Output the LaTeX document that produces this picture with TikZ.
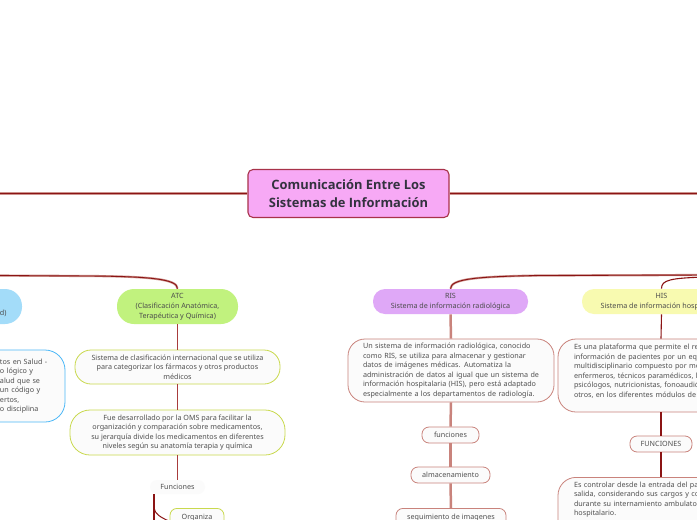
\documentclass[tikz,border=0pt]{standalone}
\usepackage{fontspec}
\setmainfont{Noto Sans}
\newfontfamily\rootfont{Open Sans}
\newcommand{\lin}{\hspace*{25pt}}
\definecolor{txt}{HTML}{505050}
\definecolor{dk}{HTML}{8B1414}
\definecolor{lt}{HTML}{CC928C}
\definecolor{rosa}{HTML}{C9837C}
\definecolor{lima}{HTML}{C9D94E}
\definecolor{azul}{HTML}{4DB8F7}
\definecolor{rootfill}{HTML}{F7A9F5}
\definecolor{rootline}{HTML}{A8324A}
\definecolor{roottext}{HTML}{33323F}
\definecolor{midred}{HTML}{A83C3C}
\definecolor{atcfill}{HTML}{C1F27E}
\definecolor{ciefill}{HTML}{A3DCF9}
\definecolor{risfill}{HTML}{DFA8F7}
\definecolor{hisfill}{HTML}{F8FAB0}
\tikzset{
  basebox/.style={draw, line width=0.8pt, fill=black!1.5, inner sep=0pt, font=\fontsize{7.2}{9.5}\selectfont, text=txt, align=center},
  head/.style={basebox, draw=none, text=black!70, font=\fontsize{7.2}{10}\selectfont},
  rosebox/.style={basebox, draw=rosa},
  limebox/.style={basebox, draw=lima},
  bluebox/.style={basebox, draw=azul},
  halo/.style={draw=lt, line width=2.2pt},
  core/.style={draw=dk, line width=0.9pt},
  thicklink/.style={draw=rosa, line width=2.5pt},
  medlink/.style={draw=midred, line width=1.5pt},
  thinlink/.style={draw=dk, line width=1.1pt}
}
\begin{document}
\begin{tikzpicture}[x=1pt,y=-1pt]
\useasboundingbox (0,0) rectangle (697,520);
\clip (0,0) rectangle (697,520);
\fill[white] (0,0) rectangle (697,520);

% central
\node[draw=rootline, fill=rootfill, line width=1.1pt, rounded corners=5pt, minimum width=201pt, minimum height=48pt, inner sep=0pt, align=center, font=\rootfont\fontsize{12.9}{18}\selectfont\bfseries, text=roottext] (root) at (348.5,193.5) {Comunicación Entre Los\\Sistemas de Información};

% headers
\node[head, fill=atcfill, minimum width=121pt, minimum height=35pt, rounded corners=17pt] (atc) at (177.5,306.5) {ATC\\(Clasificación Anatómica,\\Terapéutica y Química)};
\node[head, fill=ciefill, minimum height=35pt, rounded corners=17pt, text width=42pt, inner xsep=5pt, align=left] (cie) at (-4,306.5) {~\\~\\\lin d)};
\node[head, fill=risfill, minimum width=155pt, minimum height=25pt, rounded corners=12pt] (ris) at (450.5,301.5) {RIS\\Sistema de información radiológica};
\node[head, fill=hisfill, minimum width=159pt, minimum height=25pt, rounded corners=12pt] (his) at (661.5,301.5) {HIS\\Sistema de información hospitalaria};

% ATC column
\node[limebox, minimum width=205pt, minimum height=34pt, rounded corners=16pt] (a1) at (177.5,367) {Sistema de clasificación internacional que se utiliza\\para categorizar los fármacos y otros productos\\médicos};
\node[limebox, minimum width=215pt, minimum height=45pt, rounded corners=20pt] (a2) at (177.5,432.5) {Fue desarrollado por la OMS para facilitar la\\organización y comparación sobre medicamentos,\\su jerarquía divide los medicamentos en diferentes\\niveles según su anatomía terapia y química};
\node[basebox, draw=none, minimum width=55pt, minimum height=14pt, rounded corners=7pt] (fun) at (177.5,487) {Funciones};
\node[limebox, minimum width=54pt, minimum height=26pt, rounded corners=7pt, anchor=north, text height=7.5pt, text depth=11.5pt] (org) at (197,508) {Organiza};

% blue box
\node[bluebox, minimum height=72pt, rounded corners=20pt, text width=85pt, inner xsep=5pt, align=left] (b1) at (17.5,386) {\lin tos en Salud -\\\lin o lógico y\\\lin alud que se\\\lin un código y\\\lin ertos,\\\lin o disciplina};

% RIS column
\node[rosebox, minimum width=206pt, minimum height=63pt, rounded corners=17pt, text width=176pt, align=left] (r1) at (451,370.5) {Un sistema de información radiológica, conocido\\como RIS, se utiliza para almacenar y gestionar\\datos de imágenes médicas. Automatiza la\\administración de datos al igual que un sistema de\\información hospitalaria (HIS), pero está adaptado\\especialmente a los departamentos de radiología.};
\node[rosebox, minimum width=57pt, minimum height=16pt, rounded corners=7pt] (r2) at (450.5,435) {funciones};
\node[rosebox, minimum width=79pt, minimum height=16pt, rounded corners=7pt] (r3) at (450.5,475) {almacenamiento};
\node[rosebox, minimum width=110pt, minimum height=26pt, rounded corners=7pt, anchor=north, text height=7.5pt, text depth=11.5pt] (r4) at (451,508) {seguimiento de imagenes};

% HIS column
\node[rosebox, minimum width=206pt, minimum height=73pt, rounded corners=18pt, text width=174pt, align=left] (h1) at (661,375.5) {Es una plataforma que permite el reg\\información de pacientes por un equ\\multidisciplinario compuesto por mé\\enfermeros, técnicos paramédicos, k\\psicólogos, nutricionistas, fonoaudió\\otros, en los diferentes módulos de a\\~};
\node[rosebox, minimum width=62pt, minimum height=16pt, rounded corners=7pt] (h2) at (661,444) {FUNCIONES};
\node[rosebox, minimum width=206pt, minimum height=62pt, rounded corners=18pt, text width=174pt, align=left, anchor=north] (h3) at (661,477) {Es controlar desde la entrada del pac\\salida, considerando sus cargos y co\\durante su internamiento ambulator\\hospitalario.\\~\\~};

% free ends
\coordinate (offL) at (-10,193.5);
\coordinate (offR) at (707,193.5);
\coordinate (offLb) at (-10,275.5);
\coordinate (offRb) at (707,275);
\coordinate (offRc) at (707,277);
\coordinate (forkTop) at (154,494);
\coordinate (forkBot) at (154,530);
\coordinate (forkOut) at (154,508);

% root trunks
\foreach \s in {halo,core} {
  \draw[\s] (root.west) -- (offL);
  \draw[\s] (root.east) -- (offR);
  \draw[\s] (atc.north) .. controls (177.5,279) and (150,276.5) .. (90,276) -- (offLb);
  \draw[\s] (ris.north) .. controls (451,279) and (475,276.5) .. (540,275.5) -- (offRb);
}
\draw[thinlink] (his.north) .. controls (661.5,280) and (670,278) .. (offRc);

% ATC links
\draw[medlink] (atc.south) -- (a1.north);
\draw[medlink] (a1.south) -- (a2.north);
\draw[medlink] (a2.south) -- (fun.north);
\draw[draw=dk, line width=1.5pt] (forkTop) -- (forkBot);
\draw[draw=dk, line width=1pt] (forkOut) .. controls (155,514) and (160,517) .. (org.west);

% RIS links
\draw[thicklink] (ris.south) -- (r1.north);
\draw[thicklink] (r1.south) -- (r2.north);
\draw[thicklink] (r2.south) -- (r3.north);
\draw[thicklink] (r3.south) -- (r4.north);

% HIS links
\draw[thinlink] (his.south) -- (h1.north);
\draw[thinlink] (h1.south) -- (h2.north);
\draw[thinlink] (h2.south) -- (h3.north);
\end{tikzpicture}
\end{document}
